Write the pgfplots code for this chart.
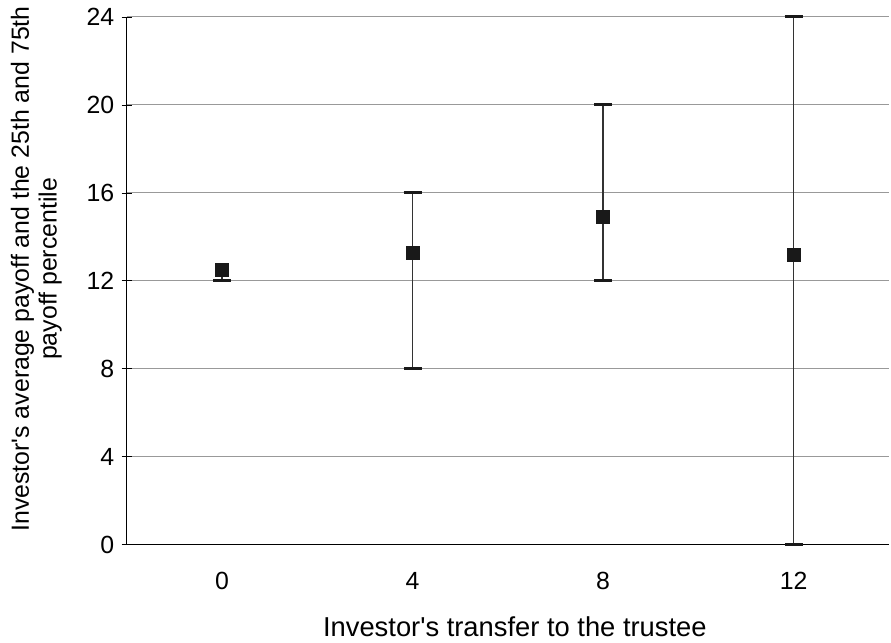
\documentclass[border=0pt]{standalone}
\usepackage{pgfplots}
\pgfplotsset{compat=1.18}
\usepackage{fontspec}
\setmainfont{Liberation Sans}

\pgfplotstableread{
x  mean  plus  minus
1  13.3  2.7   5.3
2  14.9  5.1   2.9
3  13.2  10.8  13.2
}\bars
\pgfplotstableread{
x  mean  minus
0  12.5  0.5
}\single

\begin{document}
\begin{tikzpicture}
\useasboundingbox (-127bp,-98bp) rectangle (766bp,546bp);
\begin{axis}[
  scale only axis,
  width=764bp, height=529bp,
  xmin=-0.5, xmax=3.5,
  ymin=0, ymax=24,
  axis x line=bottom, axis y line=left,
  axis line style={-, black, line width=0.8bp},
  ytick={0,4,...,24},
  xtick={0,1,2,3},
  xticklabels={0,4,8,12},
  major x tick style={draw=none},
  extra x ticks={-0.5,0.5,1.5,2.5},
  extra x tick labels={},
  extra x tick style={tick style={black, line width=0.8bp}, major tick length=16bp, tick align=center, grid=none},
  major tick length=10bp,
  tick align=center,
  ytick style={black, line width=0.8bp},
  ymajorgrids,
  major grid style={gray!80, line width=1bp},
  /pgf/number format/assume math mode=true,
  tick label style={font=\fontsize{25}{30}\selectfont},
  xticklabel style={yshift=-19bp},
  yticklabel style={xshift=-4bp},
  xlabel={Investor\textquotesingle s transfer to the trustee},
  xlabel style={font=\fontsize{27.5}{30}\selectfont, yshift=-7bp, xshift=7bp},
  ylabel={Investor\textquotesingle s average payoff and the 25th and 75th\\payoff percentile},
  ylabel style={font=\fontsize{25}{28}\selectfont, align=center, yshift=18bp, xshift=12bp},
  clip=false,
]
\addplot[only marks, mark=square*, mark size=6.5bp, mark options={fill=black!90, draw=black!90},
  error bars/.cd, y dir=both, y explicit,
  error bar style={black!80, line width=1.4bp},
  error mark options={black!90, line width=3bp, mark size=9bp, rotate=90}]
  table[x=x, y=mean, y error plus=plus, y error minus=minus] {\bars};
\addplot[only marks, mark=square*, mark size=6.5bp, mark options={fill=black!90, draw=black!90},
  error bars/.cd, y dir=minus, y explicit,
  error bar style={black!80, line width=1.4bp},
  error mark options={black!90, line width=3bp, mark size=9bp, rotate=90}]
  table[x=x, y=mean, y error minus=minus] {\single};
\end{axis}
\end{tikzpicture}
\end{document}
